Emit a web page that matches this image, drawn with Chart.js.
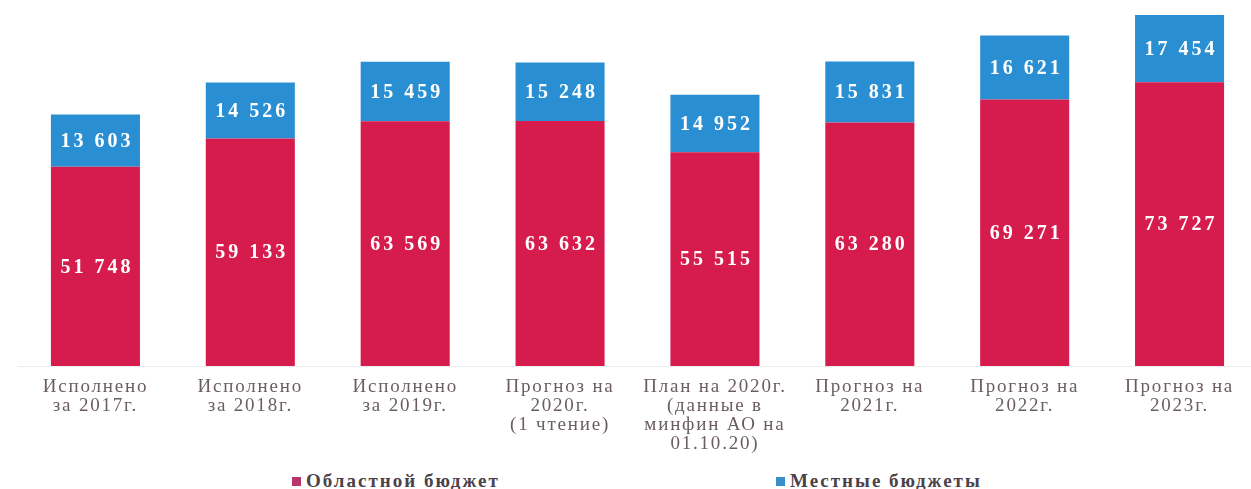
<!DOCTYPE html>
<html>
<head>
<meta charset="utf-8">
<script src="https://cdn.jsdelivr.net/npm/chart.js@4/dist/chart.umd.min.js"></script>
<style>
  html, body { margin: 0; padding: 0; background: #fff; overflow: hidden; }
  #wrap { position: relative; width: 1257px; height: 460px; }
  #legend { position: absolute; top: 470px; left: 0; width: 1251px; height: 19px;
    font: bold 19px "Liberation Serif", serif; letter-spacing: 2px; color: #4a4248; }
  .item { position: absolute; top: 0; white-space: nowrap; }
  .box { display: inline-block; width: 9px; height: 9px; margin-right: 5px; vertical-align: 1px; }
</style>
</head>
<body>
<div id="wrap"><canvas id="budget"></canvas></div>
<div id="legend">
  <span class="item" style="left:292px"><span class="box" style="background:#b9346a"></span>Областной бюджет</span>
  <span class="item" style="left:776px"><span class="box" style="background:#3a90c6"></span>Местные бюджеты</span>
</div>
<script>
var categories = [
  ["Исполнено", "за 2017г."],
  ["Исполнено", "за 2018г."],
  ["Исполнено", "за 2019г."],
  ["Прогноз на", "2020г.", "(1 чтение)"],
  ["План на 2020г.", "(данные в", "минфин АО на", "01.10.20)"],
  ["Прогноз на", "2021г."],
  ["Прогноз на", "2022г."],
  ["Прогноз на", "2023г."]
];
var regionalBudget = [51748, 59133, 63569, 63632, 55515, 63280, 69271, 73727];
var localBudgets = [13603, 14526, 15459, 15248, 14952, 15831, 16621, 17454];

function fmt(v) {
  return String(v).replace(/\B(?=(\d{3})+(?!\d))/g, " ");
}

// wider lettering like the original scan
var spacing = {
  id: "spacing",
  beforeDraw: function(chart) { chart.ctx.letterSpacing = "1.8px"; }
};

// values written in the middle of each segment
var barLabels = {
  id: "barLabels",
  afterDatasetsDraw: function(chart) {
    var ctx = chart.ctx;
    ctx.save();
    ctx.font = "bold 20px 'Liberation Serif', serif";
    ctx.letterSpacing = "3px";
    ctx.fillStyle = "#ffffff";
    ctx.textAlign = "center";
    ctx.textBaseline = "middle";
    chart.data.datasets.forEach(function(ds, i) {
      chart.getDatasetMeta(i).data.forEach(function(bar, j) {
        ctx.fillText(fmt(ds.data[j]), bar.x + 1.5, (bar.y + bar.base) / 2 + 1);
      });
    });
    ctx.restore();
  }
};

new Chart("budget", {
  type: "bar",
  data: {
    labels: categories,
    datasets: [
      { label: "Областной бюджет", data: regionalBudget, backgroundColor: "#d61c4d" },
      { label: "Местные бюджеты", data: localBudgets, backgroundColor: "#2a8fd2" }
    ]
  },
  options: {
    responsive: true,
    maintainAspectRatio: false,
    animation: false,
    layout: { padding: { top: 10, left: 18, right: 0, bottom: 0 } },
    datasets: { bar: { categoryPercentage: 1, barPercentage: 0.575 } },
    plugins: { legend: { display: false }, tooltip: { enabled: false } },
    scales: {
      x: {
        stacked: true,
        grid: { display: false },
        border: { color: "#ececec" },
        ticks: {
          color: "#6a5d63",
          padding: 4,
          maxRotation: 0,
          autoSkip: false,
          font: { family: "'Liberation Serif', serif", size: 19, lineHeight: 1.0 }
        },
        afterFit: function(scale) { scale.height = 94; }
      },
      y: {
        stacked: true,
        display: false,
        min: 0,
        max: 92500
      }
    }
  },
  plugins: [spacing, barLabels]
});
</script>
</body>
</html>
